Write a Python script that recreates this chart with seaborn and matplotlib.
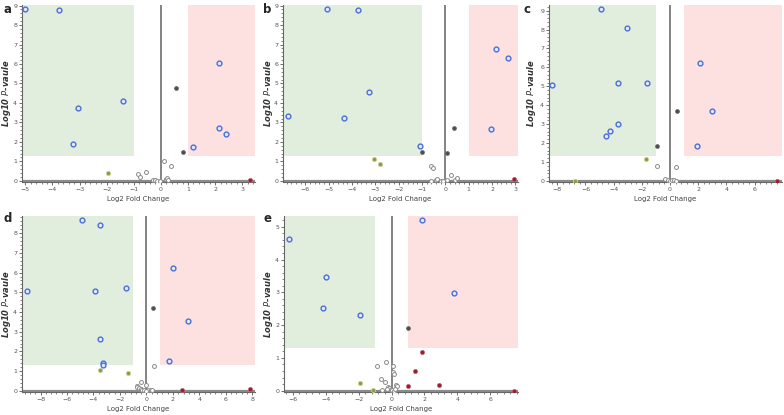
import matplotlib
matplotlib.use("Agg")
import matplotlib.pyplot as plt
from matplotlib.patches import Rectangle
from matplotlib.ticker import AutoMinorLocator
import numpy as np
import pandas as pd
import seaborn as sns

# ---- data: (log2 fold change, -log10 p) per group ----
A_FC = [-5.0, -3.75, -3.06, -3.23, -1.38, 2.14, 2.14, 2.40, 1.19,
        0.55, 0.81, -1.96, 3.29,
        0.10, 0.38, -0.54, -0.85, -0.76, -0.30, -0.23, -0.13, -0.04, 0.18, 0.22, 0.28]
A_LOGP = [8.83, 8.78, 3.75, 1.91, 4.11, 6.07, 2.71, 2.42, 1.74,
          4.78, 1.48, 0.38, 0.05,
          1.01, 0.74, 0.43, 0.34, 0.19, 0.02, 0.02, 0.01, 0.0, 0.07, 0.15, 0.05]
A_GROUP = ["sig"] * 9 + ["dark"] * 2 + ["olive"] + ["red"] + ["ns"] * 12

B_FC = [-6.72, -5.06, -3.72, -4.35, -3.25, -1.07, 2.15, 2.70, 1.97,
        -1.0, 0.07, 0.36, -3.04, -2.80, 2.92,
        -0.63, -0.51, -0.60, -0.39, -0.34, -0.17, -0.10, 0.09, 0.26, 0.40, 0.51]
B_LOGP = [3.33, 8.83, 8.78, 3.21, 4.57, 1.77, 6.79, 6.32, 2.66,
          1.46, 1.41, 2.73, 1.13, 0.84, 0.09,
          0.76, 0.67, 0.0, 0.02, 0.08, 0.0, -0.01, 0.02, 0.31, 0.02, 0.14]
B_GROUP = ["sig"] * 9 + ["dark"] * 3 + ["olive"] * 2 + ["red"] + ["ns"] * 11

C_FC = [-8.36, -4.92, -3.08, -3.69, -1.61, -3.72, -4.24, -4.57, 2.13, 2.96, 1.94,
        -0.92, 0.50, -1.68, -6.75, 7.6,
        -0.9, 0.40, -0.33, -0.14, -0.02, 0.14, 0.26, 0.45]
C_LOGP = [5.08, 9.09, 8.10, 5.16, 5.16, 2.99, 2.62, 2.35, 6.21, 3.70, 1.87,
          1.86, 3.68, 1.13, 0.0, 0.0,
          0.80, 0.71, 0.09, 0.04, -0.03, 0.07, 0.02, -0.03]
C_GROUP = ["sig"] * 11 + ["dark"] * 2 + ["olive"] * 2 + ["red"] + ["ns"] * 8

D_FC = [-9.05, -4.88, -3.5, -3.88, -1.58, -3.5, -3.3, -3.3, 2.03, 3.15, 1.68,
        0.53, -3.48, -1.38, 2.65, 7.83,
        0.58, -0.43, 0.0, -0.75, -0.68, -0.55, -0.43, -0.3, -0.18, 0.08, 0.32, 0.45, -0.05]
D_LOGP = [5.06, 8.68, 8.43, 5.08, 5.23, 2.61, 1.40, 1.30, 6.21, 3.54, 1.52,
          4.21, 1.07, 0.91, 0.03, 0.10,
          1.24, 0.44, 0.29, 0.22, 0.17, 0.12, 0.07, 0.03, 0.02, 0.02, 0.02, 0.02, 0.0]
D_GROUP = ["sig"] * 11 + ["dark"] + ["olive"] * 2 + ["red"] * 2 + ["ns"] * 13

E_FC = [-6.22, -3.98, -4.16, -1.90, 1.84, 3.82,
        0.97, -1.9, -1.13, 1.88, 1.43, 1.03, 2.89, 7.41,
        -0.91, -0.34, 0.10, 0.06, 0.12, -0.65, -0.38, 0.28, 0.34, -0.2, -0.14,
        -0.3, -0.06, 0.02, 0.14, 0.24, -0.57]
E_LOGP = [4.64, 3.46, 2.53, 2.32, 5.22, 2.99,
          1.91, 0.24, 0.03, 1.17, 0.59, 0.14, 0.16, 0.0,
          0.76, 0.89, 0.75, 0.58, 0.50, 0.35, 0.27, 0.17, 0.14, 0.12, 0.09,
          0.05, 0.02, 0.01, 0.0, 0.04, 0.01]
E_GROUP = ["sig"] * 6 + ["dark"] + ["olive"] * 2 + ["red"] * 5 + ["ns"] * 17

PANELS = {
    "a": (A_FC, A_LOGP, A_GROUP, (-5.12, 3.47), (-0.06, 9.03), np.arange(-5, 4, 1), range(0, 10)),
    "b": (B_FC, B_LOGP, B_GROUP, (-6.95, 3.11), (-0.06, 9.03), np.arange(-6, 4, 1), range(0, 10)),
    "c": (C_FC, C_LOGP, C_GROUP, (-8.59, 7.95), (-0.06, 9.3), np.arange(-8, 7, 2), range(0, 10)),
    "d": (D_FC, D_LOGP, D_GROUP, (-9.4, 8.2), (-0.06, 8.87), np.arange(-8, 9, 2), range(0, 9)),
    "e": (E_FC, E_LOGP, E_GROUP, (-6.53, 7.68), (-0.04, 5.33), np.arange(-6, 7, 2), range(0, 6)),
}

# axes boxes in pixels: left, top, right, bottom
BOXES = {
    "a": (22, 5, 255, 182),
    "b": (283, 5, 518, 182),
    "c": (549, 5, 782, 182),
    "d": (22, 216, 255, 392),
    "e": (284, 216, 518, 392),
}
# right edge of the y-label, pixels left of the axes
YLAB_OFF = {"a": 9, "b": 8, "c": 11, "d": 9, "e": 9}
LETTERS = {"a": (3, 3), "b": (263, 3), "c": (523, 3), "d": (3, 212), "e": (263, 212)}

STYLE = {
    "sig": dict(facecolor="#e4e9fb", edgecolor="#4b6fd6", s=12, linewidth=1.0),
    "ns": dict(facecolor="white", edgecolor="#8a8a8a", s=8, linewidth=0.7),
    "dark": dict(facecolor="#4d4d4d", edgecolor="#6a6a6a", s=8, linewidth=0.5),
    "olive": dict(facecolor="#8f9a35", edgecolor="#c9cf9a", s=9, linewidth=0.6),
    "red": dict(facecolor="#9c1b2e", edgecolor="#c06070", s=9, linewidth=0.5),
}

sns.set_theme(style="white")
plt.rcParams["font.family"] = ["DejaVu Sans"]

W, H = 784, 415
fig = plt.figure(figsize=(W / 100, H / 100), dpi=100)

for key, (fc, logp, group, xlim, ylim, xt, yt) in PANELS.items():
    l, t, r, b = BOXES[key]
    ax = fig.add_axes([l / W, (H - b) / H, (r - l) / W, (b - t) / H])
    df = pd.DataFrame({"fc": fc, "logp": logp, "group": group})

    # threshold regions
    ax.add_patch(Rectangle((xlim[0], 1.3), -1 - xlim[0], ylim[1] - 1.3,
                           facecolor="#e1eedd", edgecolor="none", zorder=0))
    ax.add_patch(Rectangle((1, 1.3), xlim[1] - 1, ylim[1] - 1.3,
                           facecolor="#fde1e1", edgecolor="none", zorder=0))
    ax.axvline(0, color="#7a7a7a", lw=1.3, zorder=1)
    ax.axhline(0, color="#8c8c8c", lw=1.6, zorder=1)

    for g in ["ns", "dark", "olive", "red", "sig"]:
        sub = df[df["group"] == g]
        if len(sub):
            sns.scatterplot(data=sub, x="fc", y="logp", ax=ax, zorder=3,
                            legend=False, **STYLE[g])

    ax.set_xlim(*xlim)
    ax.set_ylim(*ylim)
    ax.set_xticks(xt)
    ax.set_yticks(list(yt))
    ax.xaxis.set_minor_locator(AutoMinorLocator(5))
    ax.yaxis.set_minor_locator(AutoMinorLocator(5))
    ax.tick_params(axis="both", which="major", direction="out", length=2.5,
                   width=0.6, color="#555555", labelsize=4.5, labelcolor="#555555", pad=1)
    ax.tick_params(axis="both", which="minor", direction="out", length=1.4,
                   width=0.5, color="#555555")
    ax.tick_params(bottom=True, left=True, which="both")
    for s in ["top", "right"]:
        ax.spines[s].set_visible(False)
    for s in ["left", "bottom"]:
        ax.spines[s].set_color("#666666")
        ax.spines[s].set_linewidth(0.8)

    ax.set_xlabel("Log2 Fold Change", fontsize=5, color="#444444", labelpad=3)
    ax.set_ylabel(r"Log10 $\mathit{P}$-vaule", fontsize=6, fontstyle="italic",
                  fontweight="bold", color="#333333")
    ax.yaxis.set_label_coords(-YLAB_OFF[key] / (r - l), 0.5)
    ax.patch.set_alpha(0)

    lx, ly = LETTERS[key]
    fig.text(lx / W, 1 - ly / H, key, fontsize=8.5, fontweight="bold",
             ha="left", va="top")

fig.savefig("out.png", dpi=100)
